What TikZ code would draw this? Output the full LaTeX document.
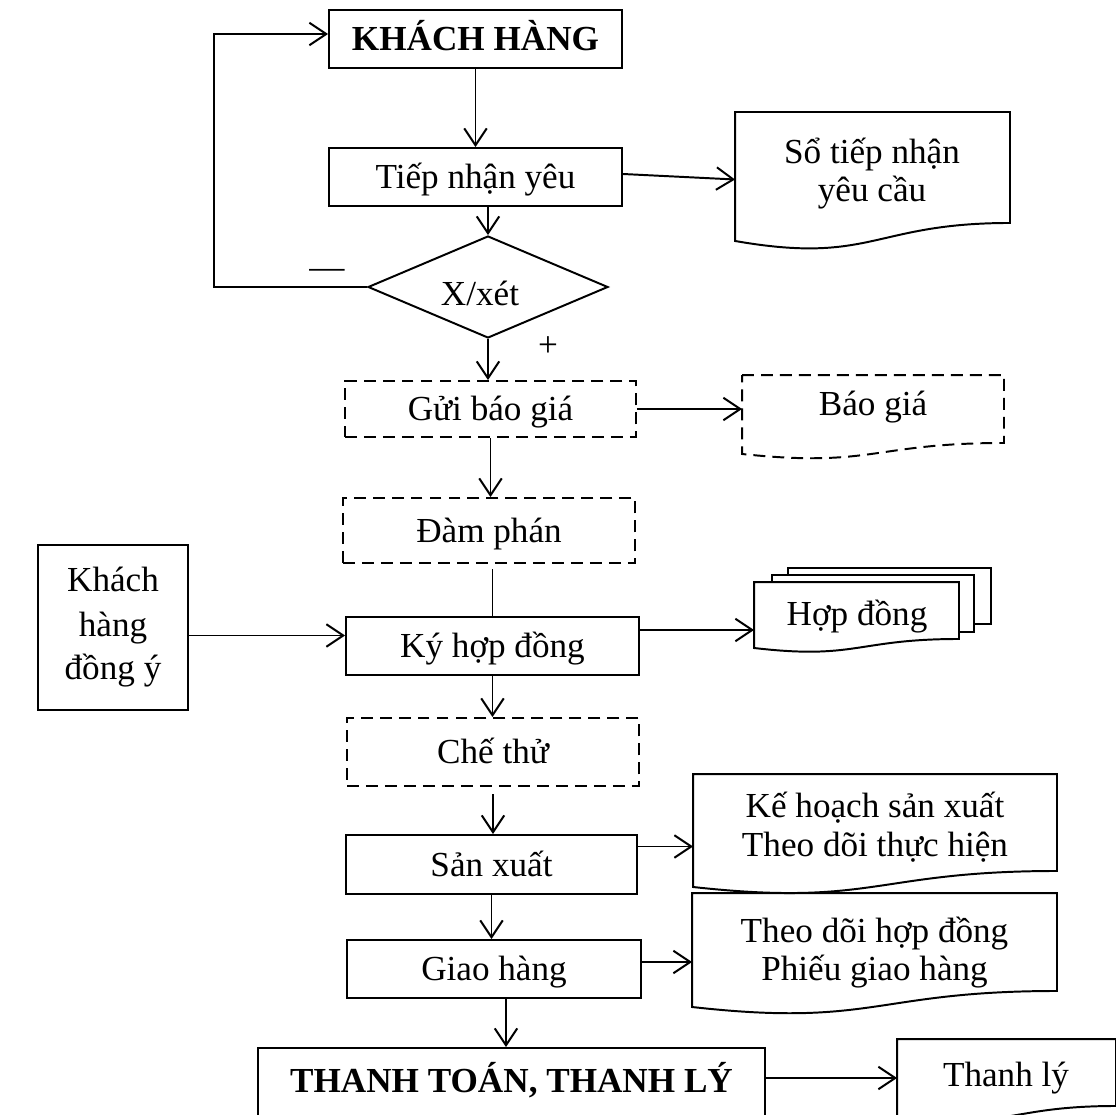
\documentclass[tikz,border=0pt]{standalone}
\usepackage{fontspec}
\setmainfont{Liberation Serif}
\usetikzlibrary{arrows.meta,shapes.geometric,calc}
\begin{document}
\begin{tikzpicture}[x=0.025cm,y=-0.025cm, line width=1.4pt,
  every node/.style={font=\fontsize{25}{28}\selectfont},
  arr/.style={-{Straight Barb[length=12pt,width=16pt,line width=1.4pt]}},
  capt/.style={inner sep=0pt, text height=16.5pt, text depth=0pt},
  box/.style={draw, rectangle, inner sep=0pt, capt},
  dbox/.style={box, dash pattern=on 8.5pt off 5pt},
  dashline/.style={dash pattern=on 8.5pt off 5pt},
  sz/.style 2 args={minimum width=#1*0.025cm, minimum height=#2*0.025cm},
  docn/.style={inner sep=0pt},
  bold/.style={font=\bfseries\fontsize{25}{28}\selectfont}
]
\useasboundingbox (0,0) rectangle (1116,1115);

% main process boxes
\node[box,bold,sz={293}{58}] (kh) at (475.5,39) {KHÁCH HÀNG};
\node[box,sz={293}{58}] (tn) at (475.5,177) {Tiếp nhận yêu};
\node[draw,diamond,inner sep=0pt,sz={240}{102}] (dm) at (488,287) {};
\node[capt] (dmt) at (480,294) {X/xét};
\node (minus) at (327,274) {—};
\node (plus) at (548,347) {+};
\node[dbox,sz={291}{56}] (gb) at (490.5,409) {Gửi báo giá};
\node[dbox,sz={292}{65}] (dp) at (489,530.5) {Đàm phán};
\node[box,sz={293}{58}] (ky) at (492.5,646) {Ký hợp đồng};
\node[draw,inner sep=0pt,sz={150}{165}] (kd) at (113,627.5) {};
\node[capt] (kd1) at (113,580) {Khách};
\node[capt] (kd2) at (113,625) {hàng};
\node[capt] (kd3) at (113,668) {đồng ý};
\node[dbox,sz={292}{68}] (ct) at (493,752) {Chế thử};
\node[box,sz={291}{59}] (sx) at (491.5,864.5) {Sản xuất};
\node[box,sz={294}{58}] (gh) at (494,969) {Giao hàng};
\node[draw,inner sep=0pt,sz={507}{74}] (tt) at (511.5,1085) {};
\node[capt,bold] (ttt) at (511.5,1081) {THANH TOÁN, THANH LÝ};

% document shapes
\node[docn,sz={273}{109}] (so) at (872.5,167.5) {};
\draw (so.north west) -- (so.north east) -- (so.south east)
  .. controls (so.south) and ($(so.south)+(0,42)$) .. ($(so.south west)+(0,18)$) -- cycle;
\node[capt] (so1) at (872,152) {Sổ tiếp nhận};
\node[capt] (so2) at (872,190) {yêu cầu};

\node[docn,sz={260}{66}] (bg) at (873,409) {};
\draw[dashline] (bg.north west) -- (bg.north east) -- (bg.south east)
  .. controls (bg.south) and ($(bg.south)+(0,25)$) .. ($(bg.south west)+(0,11)$) -- cycle;
\node[capt] (bgt) at (873,404) {Báo giá};

\draw[fill=white] (788,568) rectangle (991,624);
\draw[fill=white] (772,575) rectangle (974,632);
\node[docn,sz={203}{55},fill=white] (hd) at (856.5,610.5) {};
\draw (hd.north west) -- (hd.north east) -- (hd.south east)
  .. controls (hd.south) and ($(hd.south)+(0,21)$) .. ($(hd.south west)+(0,9)$) -- cycle;
\node[capt] (hdt) at (857,614) {Hợp đồng};

\node[docn,sz={362}{95}] (k2) at (875,822.5) {};
\draw (k2.north west) -- (k2.north east) -- (k2.south east)
  .. controls (k2.south) and ($(k2.south)+(0,36)$) .. ($(k2.south west)+(0,16)$) -- cycle;
\node[capt] (k21) at (875,806) {Kế hoạch sản xuất};
\node[capt] (k22) at (875,845) {Theo dõi thực hiện};

\node[docn,sz={363}{96}] (td) at (874.5,942) {};
\draw (td.north west) -- (td.north east) -- (td.south east)
  .. controls (td.south) and ($(td.south)+(0,36.5)$) .. ($(td.south west)+(0,16)$) -- cycle;
\node[capt] (td1) at (874.5,931) {Theo dõi hợp đồng};
\node[capt] (td2) at (874.5,969) {Phiếu giao hàng};

\node[docn,sz={217}{65}] (tl) at (1006.5,1072.5) {};
\draw (tl.north west) -- (tl.north east) -- (tl.south east)
  .. controls (tl.south) and ($(tl.south)+(0,25)$) .. ($(tl.south west)+(0,11)$) -- cycle;
\node[capt] (tlt) at (1006,1075) {Thanh lý};

% connectors
\draw[arr] (kh) -- (tn);
\draw[arr] (tn.south -| dm.north) -- (dm.north);
\coordinate (lp) at (214,34);
\draw[arr] (dm.west) -| (lp) -- (lp -| kh.west);
\coordinate (tno) at ($(tn.east)+(0,-3)$);
\coordinate (soi) at ($(so.west)+(0,12)$);
\draw[arr] (tno) -- (soi);
\draw[arr] (dm.south) -- (dm.south |- gb.north);
\draw[arr] (gb.east) -- (gb.east -| bg.west);
\draw[arr] (gb.south) -- (gb.south |- dp.north);
\draw[shorten >=3.5pt] (ky.north) -- (ky.north |- dp.south);
\coordinate (kdo) at ($(kd.east)+(0,8)$);
\draw[arr] (kdo) -- (kdo -| ky.west);
\coordinate (kyo) at ($(ky.east)+(0,-16)$);
\draw[arr] (kyo) -- (kyo -| hd.west);
\draw[arr] (ky.south) -- (ky.south |- ct.north);
\draw[arr, shorten <=5pt] (ct.south) -- (ct.south |- sx.north);
\coordinate (sxo) at ($(sx.east)+(0,-18)$);
\draw[arr] (sxo) -- (sxo -| k2.west);
\draw[arr] (sx.south) -- (sx.south |- gh.north);
\coordinate (gho) at ($(gh.east)+(0,-7)$);
\draw[arr] (gho) -- (gho -| td.west);
\coordinate (ghs) at ($(gh.south)+(12,0)$);
\draw[arr] (ghs) -- (ghs |- tt.north);
\coordinate (tto) at ($(tt.east)+(0,-7)$);
\draw[arr] (tto) -- (tto -| tl.west);
\end{tikzpicture}
\end{document}
